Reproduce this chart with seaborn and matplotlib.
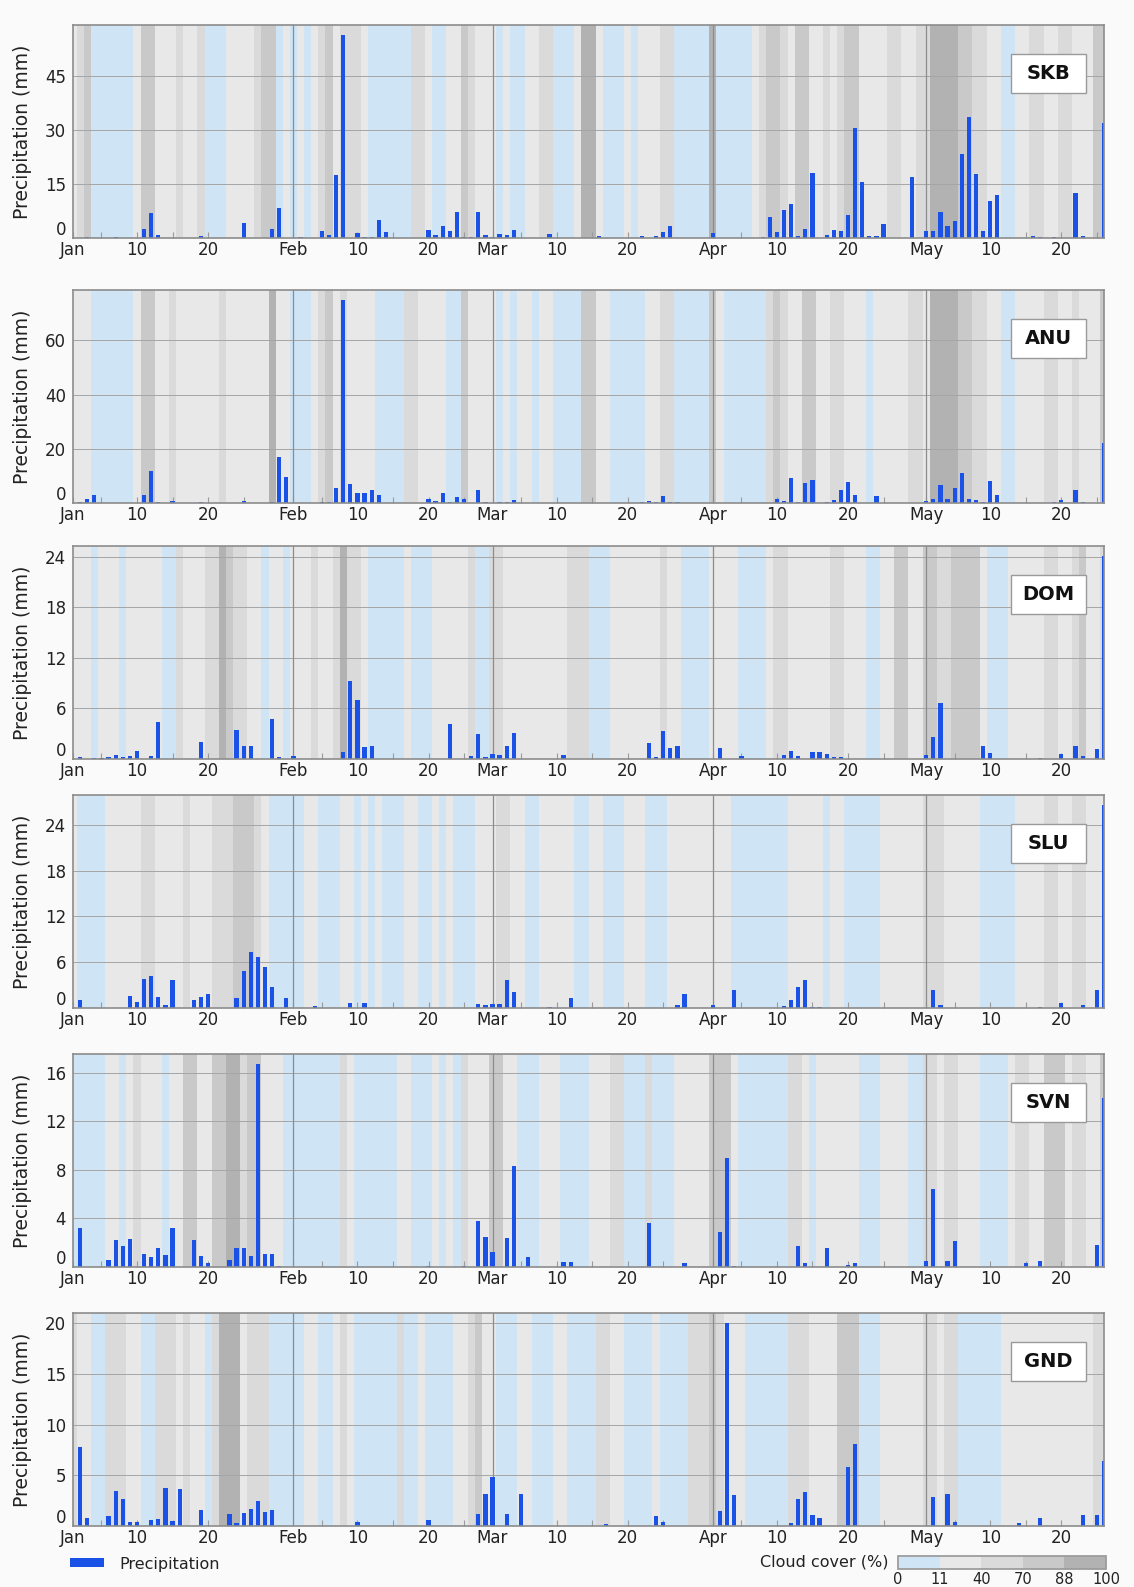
import numpy as np
import pandas as pd
import matplotlib
matplotlib.use("Agg")
import matplotlib.pyplot as plt
import matplotlib.patches as mpatches
import matplotlib.transforms as mtransforms
from matplotlib.colors import ListedColormap, BoundaryNorm
from matplotlib.cm import ScalarMappable
import seaborn as sns

# day index: 0 = 1 Jan, 145 = 26 May
n_days = 146

stations = ['SKB', 'ANU', 'DOM', 'SLU', 'SVN', 'GND']

# daily precipitation (mm), only the wet days
skb_days = [2, 6, 10, 11, 12, 18, 24, 28, 29, 32, 35, 36, 37, 38, 40, 41, 42, 43, 44, 50, 51, 52, 53, 54, 55, 56, 57, 58,
            59, 60, 61, 62, 67, 74, 80, 82, 83, 84, 90, 97, 98, 99, 100, 101, 102, 103, 104, 106, 107, 108, 109, 110,
            111, 112, 113, 114, 118, 120, 121, 122, 123, 124, 125, 126, 127, 128, 129, 130, 135, 136, 138, 141, 142, 145]
skb_mm = [0.4, 0.2, 2.5, 6.8, 0.8, 0.5, 4.2, 2.5, 8.3, 0.3, 2.0, 0.9, 17.4, 56.3, 1.4, 0.4, 0.4, 5.1, 1.8, 2.3, 0.9, 3.2,
          2.0, 7.2, 0.2, 0.2, 7.2, 0.9, 0.4, 1.2, 0.9, 2.3, 1.2, 0.6, 0.6, 0.5, 1.6, 3.2, 1.4, 0.2, 5.7, 1.6, 7.9, 9.3,
          0.5, 2.5, 18.1, 0.9, 2.3, 2.0, 6.5, 30.6, 15.5, 0.6, 0.5, 3.9, 16.9, 2.0, 1.9, 7.2, 3.2, 4.6, 23.4, 33.5,
          17.8, 1.9, 10.2, 11.9, 0.5, 0.2, 0.4, 12.5, 0.6, 32.0]

anu_days = [1, 2, 3, 10, 11, 12, 14, 18, 24, 28, 29, 30, 35, 36, 37, 38, 39, 40, 41, 42, 43, 50, 51, 52, 53, 54, 55, 57,
            58, 60, 61, 62, 80, 81, 82, 83, 84, 85, 99, 100, 101, 102, 103, 104, 106, 107, 108, 109, 110, 113, 120, 121,
            122, 123, 124, 125, 126, 127, 128, 129, 130, 138, 139, 141, 142, 145]
anu_mm = [0.4, 1.6, 2.9, 2.9, 11.9, 0.4, 0.6, 0.4, 0.6, 0.4, 17.1, 9.7, 0.4, 0.2, 5.6, 74.9, 7.0, 3.7, 3.7, 4.7, 2.9, 1.6,
          0.6, 3.7, 0.4, 2.2, 1.4, 4.7, 0.2, 0.4, 0.4, 1.0, 0.4, 0.6, 0.4, 2.5, 0.4, 0.4, 1.4, 0.6, 9.1, 0.4, 7.2, 8.4,
          0.2, 1.0, 4.7, 7.8, 3.1, 2.5, 0.6, 1.6, 6.6, 1.4, 5.6, 10.9, 1.4, 1.0, 0.4, 8.1, 2.9, 0.4, 1.0, 4.7, 0.4, 22.1]

dom_days = [1, 3, 4, 5, 6, 7, 8, 9, 11, 12, 18, 23, 24, 25, 28, 29, 31, 38, 39, 40, 41, 42, 53, 56, 57, 58, 59, 60, 61,
            62, 69, 81, 82, 83, 84, 85, 91, 94, 100, 101, 102, 104, 105, 106, 107, 108, 120, 121, 122, 128, 129, 136,
            139, 141, 142, 144, 145]
dom_mm = [0.25, 0.1, 0.1, 0.2, 0.45, 0.2, 0.3, 1.0, 0.4, 4.4, 2.0, 3.4, 1.5, 1.5, 4.8, 0.25, 0.3, 0.8, 9.3, 7.0, 1.4, 1.6,
          4.1, 0.3, 3.0, 0.2, 0.6, 0.5, 1.6, 3.1, 0.5, 1.9, 0.2, 3.3, 1.3, 1.5, 1.3, 0.4, 0.5, 1.0, 0.4, 0.8, 0.8, 0.6,
          0.2, 0.2, 0.5, 2.6, 6.6, 1.6, 0.7, 0.1, 0.6, 1.6, 0.3, 1.2, 24.1]

slu_days = [1, 8, 9, 10, 11, 12, 13, 14, 17, 18, 19, 23, 24, 25, 26, 27, 28, 30, 34, 39, 41, 57, 58, 59, 60, 61, 62, 67,
            70, 85, 86, 90, 93, 100, 101, 102, 103, 104, 105, 121, 122, 136, 139, 142, 144, 145]
slu_mm = [1.0, 1.6, 0.8, 3.8, 4.2, 1.5, 0.4, 3.7, 1.1, 1.5, 1.8, 1.3, 4.8, 7.4, 6.7, 5.4, 2.8, 1.3, 0.3, 0.7, 0.7, 0.5,
          0.4, 0.5, 0.5, 3.7, 2.1, 0.1, 1.3, 0.4, 1.8, 0.4, 2.4, 0.3, 1.0, 2.7, 3.7, 0.1, 0.1, 2.4, 0.4, 0.1, 0.7, 0.4,
          2.4, 26.6]

svn_days = [1, 5, 6, 7, 8, 10, 11, 12, 13, 14, 17, 18, 19, 22, 23, 24, 25, 26, 27, 28, 29, 50, 55, 57, 58, 59, 61, 62,
            64, 69, 70, 81, 86, 91, 92, 93, 102, 103, 106, 109, 110, 120, 121, 123, 124, 134, 136, 144, 145]
svn_mm = [3.2, 0.6, 2.2, 1.7, 2.3, 1.1, 0.8, 1.6, 1.0, 3.2, 2.2, 0.9, 0.3, 0.6, 1.6, 1.6, 0.9, 16.7, 1.1, 1.1, 0.1, 0.1,
          0.1, 3.8, 2.5, 1.2, 2.4, 8.3, 0.8, 0.4, 0.4, 3.6, 0.3, 2.9, 9.0, 0.1, 1.7, 0.3, 1.6, 0.2, 0.3, 0.5, 6.4, 0.5,
          2.1, 0.3, 0.5, 1.8, 13.9]

gnd_days = [1, 2, 5, 6, 7, 8, 9, 11, 12, 13, 14, 15, 18, 22, 23, 24, 25, 26, 27, 28, 40, 50, 57, 58, 59, 61, 63, 75, 82,
            83, 91, 92, 93, 101, 102, 103, 104, 105, 109, 110, 121, 123, 124, 133, 136, 142, 144, 145]
gnd_mm = [7.8, 0.75, 1.0, 3.5, 2.7, 0.4, 0.4, 0.6, 0.7, 3.7, 0.5, 3.6, 1.6, 1.2, 0.3, 1.3, 1.7, 2.5, 1.4, 1.6, 0.4, 0.6,
          1.2, 3.2, 4.8, 1.2, 3.2, 0.2, 1.0, 0.4, 1.5, 20.0, 3.1, 0.3, 2.7, 3.4, 1.1, 0.75, 5.8, 8.1, 2.9, 3.2, 0.4, 0.3,
          0.75, 1.1, 1.1, 6.4]

# daily cloud cover class: 0 = 0-11 %, 1 = 11-40 %, 2 = 40-70 %, 3 = 70-88 %, 4 = 88-100 %
skb_cloud = ([1, 2, 3, 0, 0, 0, 0, 0, 0, 1, 3, 3, 1, 1, 1, 2, 1, 1, 2, 0, 0, 0, 1, 1, 1, 1, 2, 3, 3, 0, 1]
             + [0, 1, 0, 1, 2, 3, 1, 2, 2, 2, 1, 0, 0, 0, 0, 0, 0, 2, 2, 1, 0, 0, 1, 1, 3, 2, 1, 1]
             + [1, 0, 1, 0, 0, 1, 1, 2, 2, 0, 0, 0, 1, 4, 4, 1, 0, 0, 0, 1, 0, 1, 1, 1, 2, 2, 0, 0, 0, 0, 0]
             + [4, 0, 0, 0, 0, 0, 1, 2, 3, 3, 2, 1, 3, 3, 1, 1, 2, 1, 2, 3, 3, 1, 1, 1, 1, 2, 2, 1, 1, 2]
             + [2, 4, 4, 4, 4, 3, 3, 2, 2, 1, 1, 0, 0, 1, 1, 2, 2, 1, 1, 2, 2, 1, 1, 1, 3, 3])
anu_cloud = ([1, 1, 1, 0, 0, 0, 0, 0, 0, 1, 3, 3, 1, 1, 2, 1, 1, 1, 1, 1, 1, 2, 1, 1, 1, 1, 1, 1, 4, 1, 1]
             + [0, 0, 0, 1, 2, 3, 1, 2, 1, 1, 1, 1, 0, 0, 0, 0, 2, 2, 1, 1, 1, 1, 0, 0, 3, 1, 1, 1]
             + [1, 0, 1, 0, 1, 1, 0, 1, 1, 0, 0, 0, 0, 3, 3, 1, 1, 0, 0, 0, 0, 0, 1, 1, 2, 2, 0, 0, 0, 0, 0]
             + [3, 1, 0, 0, 0, 0, 0, 0, 2, 3, 2, 1, 1, 3, 3, 1, 1, 2, 2, 1, 1, 1, 0, 1, 1, 1, 1, 1, 2, 2]
             + [1, 4, 4, 4, 4, 3, 3, 2, 2, 1, 1, 0, 0, 1, 1, 1, 1, 2, 2, 1, 1, 2, 1, 1, 1, 3])
dom_cloud = ([1, 1, 1, 0, 1, 1, 1, 0, 1, 1, 1, 1, 1, 0, 0, 2, 1, 1, 1, 2, 2, 4, 3, 2, 2, 1, 1, 0, 1, 1, 0]
             + [1, 1, 1, 2, 1, 1, 2, 4, 2, 2, 1, 0, 0, 0, 0, 0, 1, 0, 0, 0, 1, 1, 1, 1, 1, 2, 0, 0]
             + [2, 2, 1, 1, 1, 1, 1, 1, 1, 1, 1, 2, 2, 2, 0, 0, 0, 1, 1, 1, 1, 1, 1, 1, 2, 1, 1, 0, 0, 0, 0]
             + [1, 1, 1, 1, 0, 0, 0, 0, 1, 2, 2, 1, 1, 1, 1, 1, 1, 2, 2, 1, 1, 1, 0, 0, 1, 1, 3, 3, 1, 1]
             + [3, 3, 2, 2, 3, 3, 3, 3, 1, 0, 0, 0, 1, 1, 1, 1, 1, 2, 2, 1, 1, 2, 3, 1, 1, 2])
slu_cloud = ([1, 0, 0, 0, 0, 1, 1, 1, 1, 1, 2, 2, 1, 1, 1, 1, 2, 1, 1, 1, 2, 2, 2, 3, 3, 3, 2, 1, 0, 0, 0]
             + [0, 0, 1, 1, 0, 0, 0, 1, 1, 0, 1, 0, 1, 0, 0, 0, 1, 1, 0, 0, 1, 0, 1, 0, 0, 0, 1, 1]
             + [1, 2, 2, 1, 1, 0, 0, 1, 1, 1, 1, 1, 0, 0, 1, 1, 0, 0, 0, 1, 1, 1, 0, 0, 0, 1, 1, 1, 1, 1, 1]
             + [1, 1, 1, 0, 0, 0, 0, 0, 0, 0, 0, 1, 1, 1, 1, 1, 0, 1, 1, 0, 0, 0, 0, 0, 1, 1, 1, 1, 1, 1]
             + [2, 2, 2, 1, 1, 1, 1, 1, 0, 0, 0, 0, 0, 1, 1, 1, 1, 2, 2, 1, 1, 2, 2, 1, 1, 1])
svn_cloud = ([0, 0, 0, 0, 0, 1, 1, 0, 1, 2, 1, 1, 1, 0, 1, 1, 3, 3, 1, 1, 3, 3, 4, 4, 2, 3, 3, 1, 1, 1, 0]
             + [0, 0, 0, 0, 0, 0, 0, 2, 1, 0, 0, 0, 0, 0, 0, 1, 1, 0, 0, 0, 1, 0, 1, 0, 2, 1, 1, 1]
             + [3, 3, 1, 1, 0, 0, 0, 1, 1, 1, 0, 0, 0, 0, 1, 1, 1, 2, 2, 0, 0, 0, 2, 0, 0, 0, 1, 1, 1, 1, 1]
             + [3, 3, 3, 1, 0, 0, 0, 0, 0, 0, 0, 2, 2, 1, 0, 1, 1, 1, 1, 1, 1, 0, 0, 0, 1, 1, 1, 1, 0, 0]
             + [2, 2, 1, 2, 2, 1, 1, 1, 0, 0, 0, 0, 1, 2, 2, 1, 1, 3, 3, 3, 1, 2, 2, 1, 1, 3])
gnd_cloud = ([2, 1, 1, 0, 0, 2, 2, 2, 1, 1, 0, 0, 2, 2, 2, 1, 2, 1, 1, 0, 2, 4, 4, 4, 1, 2, 2, 2, 0, 0, 0]
             + [0, 0, 1, 1, 0, 0, 1, 2, 1, 0, 0, 0, 0, 0, 0, 2, 0, 0, 1, 0, 0, 0, 0, 1, 1, 2, 3, 1]
             + [1, 0, 0, 0, 1, 1, 0, 0, 0, 1, 1, 0, 0, 0, 0, 2, 2, 1, 1, 0, 0, 0, 0, 1, 0, 0, 0, 0, 2, 2, 2]
             + [3, 2, 1, 1, 1, 0, 0, 0, 0, 0, 0, 2, 2, 2, 1, 1, 1, 1, 3, 3, 3, 0, 0, 0, 1, 1, 1, 1, 1, 1]
             + [2, 2, 1, 2, 2, 0, 0, 0, 0, 0, 0, 1, 1, 1, 1, 1, 1, 1, 1, 1, 1, 1, 1, 1, 2, 2])

y_ticks = {
    'SKB': [0, 15, 30, 45],
    'ANU': [0, 20, 40, 60],
    'DOM': [0, 6, 12, 18, 24],
    'SLU': [0, 6, 12, 18, 24],
    'SVN': [0, 4, 8, 12, 16],
    'GND': [0, 5, 10, 15, 20],
}

# x axis: labelled days and the 5th/15th/25th of each month
major_days = [0, 9, 19, 31, 40, 50, 59, 68, 78, 90, 99, 109, 120, 129, 139]
major_labels = ['Jan', '10', '20', 'Feb', '10', '20', 'Mar', '10', '20', 'Apr', '10', '20', 'May', '10', '20']
minor_days = [4, 14, 24, 35, 45, 55, 63, 73, 83, 94, 104, 114, 124, 134, 144]
month_starts = [31, 59, 90, 120]

cloud_bounds = [0, 11, 40, 70, 88, 100]
cloud_colors = ['#cfe5f6', '#e8e8e8', '#dadada', '#c9c9c9', '#b2b2b2']
bar_blue = '#1a52e8'

all_days = {'SKB': skb_days, 'ANU': anu_days, 'DOM': dom_days, 'SLU': slu_days, 'SVN': svn_days, 'GND': gnd_days}
all_mm = {'SKB': skb_mm, 'ANU': anu_mm, 'DOM': dom_mm, 'SLU': slu_mm, 'SVN': svn_mm, 'GND': gnd_mm}
all_cloud = {'SKB': skb_cloud, 'ANU': anu_cloud, 'DOM': dom_cloud, 'SLU': slu_cloud, 'SVN': svn_cloud, 'GND': gnd_cloud}

sns.set_theme(style='white')
plt.rcParams['font.family'] = ['DejaVu Sans']

W, H = 1134, 1587
fig = plt.figure(figsize=(W / 100, H / 100), dpi=100, facecolor='#fafafa')
cloud_cmap = ListedColormap(cloud_colors)

# panel tops in pixels
tops = [25, 290, 546, 795, 1054, 1313]
ax_h = 213
left, right = 73, 1104
ax_w = right - left

for st, top in zip(stations, tops):
    assert len(all_cloud[st]) == n_days
    ax = fig.add_axes([left / W, 1 - (top + ax_h) / H, ax_w / W, ax_h / H])
    ax.set_facecolor('#e8e8e8')

    df = pd.DataFrame({'day': np.arange(n_days), 'mm': 0.0})
    df.loc[all_days[st], 'mm'] = all_mm[st]
    ytop = max(all_mm[st]) * 1.05

    # cloud cover as day-wide stripes behind the bars
    edges = np.arange(n_days + 1) - 0.5
    ax.pcolormesh(edges, [0, ytop], np.array(all_cloud[st])[None, :], cmap=cloud_cmap,
                  vmin=-0.5, vmax=4.5, shading='flat', zorder=0)

    sns.barplot(data=df, x='day', y='mm', native_scale=True, ax=ax, color=bar_blue,
                saturation=1, width=0.6, errorbar=None, linewidth=0, zorder=2)

    for m in month_starts:
        ax.axvline(m, color='#8c8c8c', lw=0.9, zorder=1)

    ax.set_xlim(0, n_days - 1)
    ax.set_ylim(0, ytop)
    ax.set_axisbelow(True)

    ax.set_xticks(major_days)
    ax.set_xticklabels(major_labels)
    ax.set_xticks(minor_days, minor=True)
    ax.tick_params(axis='x', which='both', direction='in', length=4, width=0.8, color='#9a9a9a',
                   bottom=True, labelsize=12, pad=2, labelcolor='#222222')

    ax.set_yticks(y_ticks[st])
    ax.tick_params(axis='y', length=0, labelsize=12, pad=5, labelcolor='#222222')
    ax.yaxis.grid(True, color='#a5a5a5', lw=0.7)
    ax.xaxis.grid(False)

    # the zero label sits a little above the baseline
    lab0 = ax.yaxis.get_major_ticks()[0].label1
    lab0.set_transform(lab0.get_transform() + mtransforms.ScaledTranslation(0, 0.1, fig.dpi_scale_trans))

    ax.set_xlabel('')
    ax.set_ylabel('Precipitation (mm)', fontsize=13.5, color='#222222', labelpad=9)

    for sp in ax.spines.values():
        sp.set_color('#8c8c8c')
        sp.set_linewidth(1.2)

    # station name in a white box, about 75 x 39 px
    bw, bh = 75 / ax_w, 39 / ax_h
    cx, cy = 0.946, 0.772
    ax.add_patch(mpatches.Rectangle((cx - bw / 2, cy - bh / 2), bw, bh, transform=ax.transAxes,
                                    fc='white', ec='#9a9a9a', lw=1, zorder=5))
    ax.text(cx, cy, st, transform=ax.transAxes, ha='center', va='center',
            fontsize=14, fontweight='bold', color='#111111', zorder=6)

# legend for the bars
fig.legend(handles=[mpatches.Patch(facecolor=bar_blue, edgecolor='none')], labels=['Precipitation'],
           loc='center left', bbox_to_anchor=(70 / W, 1 - 1564 / H), frameon=False, fontsize=11.5,
           handlelength=2.1, handleheight=0.5, handletextpad=1.0, borderpad=0, borderaxespad=0,
           labelcolor='#222222')

# cloud cover colour key
cax = fig.add_axes([898 / W, 1 - 1569 / H, 208 / W, 13 / H])
norm = BoundaryNorm(cloud_bounds, len(cloud_colors))
cb = fig.colorbar(ScalarMappable(norm=norm, cmap=cloud_cmap), cax=cax, orientation='horizontal',
                  spacing='uniform', ticks=cloud_bounds)
cb.outline.set_edgecolor('#9a9a9a')
cb.ax.tick_params(length=0, labelsize=10.5, pad=2, labelcolor='#222222')
fig.text(889 / W, 1 - 1562 / H, 'Cloud cover (%)', ha='right', va='center', fontsize=11.5, color='#222222')

fig.savefig('out.png', dpi=100, facecolor=fig.get_facecolor())
